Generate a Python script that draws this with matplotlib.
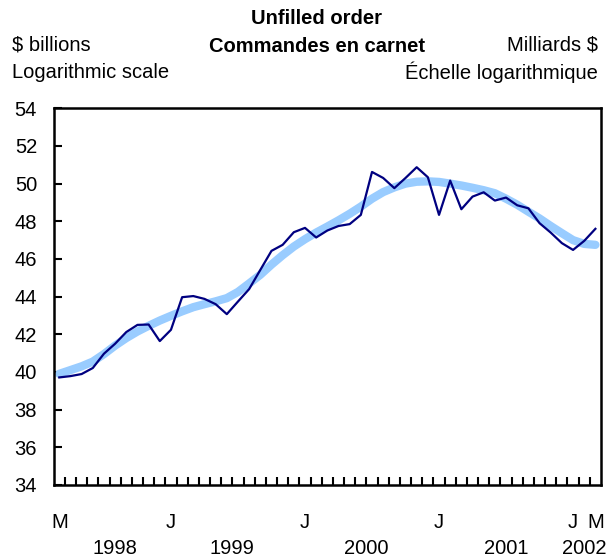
import numpy as np
import matplotlib
matplotlib.use('Agg')
from matplotlib import pyplot as plt
import matplotlib.transforms as mtransforms

plt.rcParams['font.family'] = ['Liberation Sans', 'DejaVu Sans']

# ── data: monthly, March 1998 .. March 2002 ──────────────────────────────────
ORDERS = [39.71, 39.78, 39.89, 40.21, 40.97, 41.50, 42.12, 42.50, 42.52, 41.64,
          42.24, 43.97, 44.03, 43.88, 43.60, 43.07, 43.74, 44.40, 45.42, 46.43,
          46.75, 47.42, 47.65, 47.14, 47.51, 47.75, 47.85, 48.34, 50.62, 50.30,
          49.76, 50.30, 50.87, 50.34, 48.34, 50.16, 48.64, 49.31, 49.54, 49.10,
          49.26, 48.85, 48.69, 47.90, 47.40, 46.84, 46.48, 46.96, 47.60]
TREND = [39.90, 40.10, 40.30, 40.55, 40.95, 41.40, 41.80, 42.15, 42.45, 42.73,
         42.98, 43.22, 43.44, 43.60, 43.75, 43.92, 44.25, 44.70, 45.16, 45.70,
         46.20, 46.66, 47.05, 47.40, 47.72, 48.05, 48.40, 48.78, 49.20, 49.55,
         49.80, 50.00, 50.10, 50.12, 50.09, 50.00, 49.90, 49.78, 49.65, 49.49,
         49.20, 48.88, 48.51, 48.15, 47.75, 47.37, 47.00, 46.80, 46.75]

MONTH_LABELS = ['M', 'J', 'J', 'J', 'J', 'M']
MONTH_POS    = [0, 10, 22, 34, 46, 48]
YEAR_LABELS  = ['1998', '1999', '2000', '2001', '2002']
YEAR_POS     = [5.0, 15.5, 27.5, 40.0, 47.0]
Y_TICKS      = list(range(34, 55, 2))

FS = 14.5

fig = plt.figure(figsize=(6.06, 5.57), dpi=100)
ax = fig.add_axes([0.0886, 0.1293, 0.9031, 0.6763])

x = np.arange(len(ORDERS))
ax.plot(x, TREND, color='#99ccff', linewidth=6, solid_capstyle='round', zorder=2)
ax.plot(x, ORDERS, color='#000080', linewidth=1.6, zorder=3)

ax.set_xlim(-0.5, 48.5)
ax.set_ylim(34, 54)

for s in ax.spines.values():
    s.set_linewidth(1.8)

ax.set_yticks(Y_TICKS)
ax.set_yticklabels([str(v) for v in Y_TICKS], fontsize=FS)
ax.tick_params(axis='y', direction='in', length=6, width=1.5, pad=12)
ax.set_xticks(np.arange(0.5, 48.5, 1.0))
ax.set_xticklabels([])
ax.tick_params(axis='x', direction='in', length=6, width=1.5)

# month / year labels below the axis
trans = mtransforms.blended_transform_factory(ax.transData, fig.transFigure)
for (pos, lab) in zip(MONTH_POS, MONTH_LABELS):
    ax.text(pos, 1 - 522 / 557, lab, transform=trans, ha='center', va='center', fontsize=FS)
for (pos, lab) in zip(YEAR_POS, YEAR_LABELS):
    ax.text(pos, 1 - 548 / 557, lab, transform=trans, ha='center', va='center', fontsize=FS)

# header texts
fig.text(317 / 606, 1 - 18 / 557, 'Unfilled order', ha='center', va='center',
         fontsize=FS, fontweight='bold')
fig.text(317 / 606, 1 - 46 / 557, 'Commandes en carnet', ha='center', va='center',
         fontsize=FS, fontweight='bold')
fig.text(12 / 606, 1 - 45 / 557, '$ billions', ha='left', va='center', fontsize=FS)
fig.text(12 / 606, 1 - 72 / 557, 'Logarithmic scale', ha='left', va='center', fontsize=FS)
fig.text(598 / 606, 1 - 45 / 557, 'Milliards $', ha='right', va='center', fontsize=FS)
fig.text(598 / 606, 1 - 72 / 557, 'Échelle logarithmique', ha='right', va='center', fontsize=FS)

fig.savefig('out.png', dpi=100)
